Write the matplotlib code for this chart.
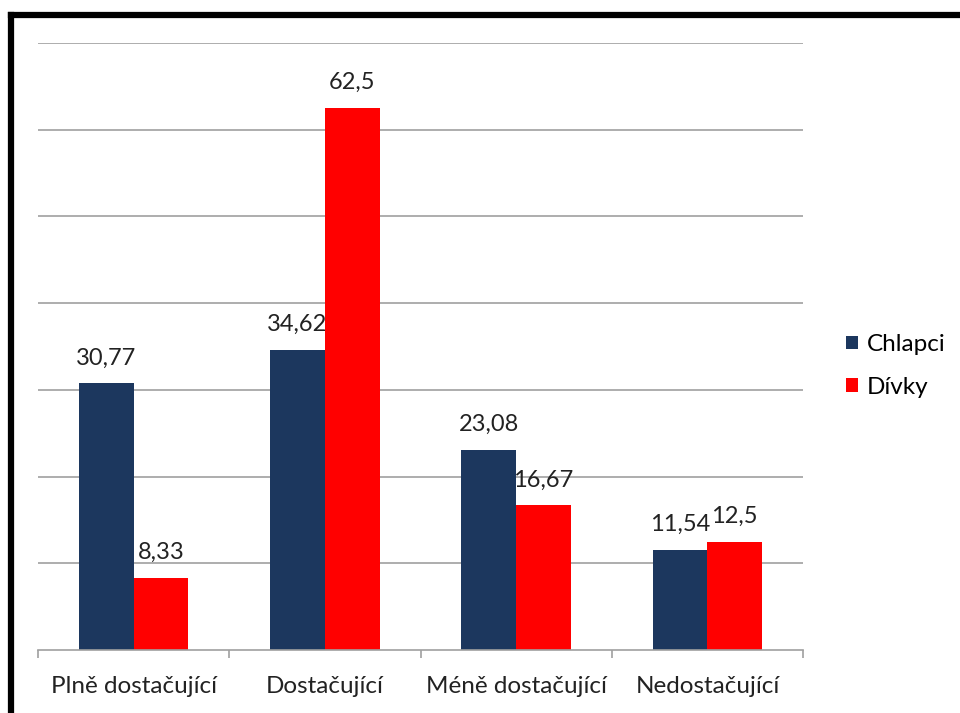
import numpy as np
import matplotlib.pyplot as plt
from matplotlib.lines import Line2D
from matplotlib.patches import Patch

categories = ["Plně dostačující", "Dostačující", "Méně dostačující", "Nedostačující"]
chlapci = [30.77, 34.62, 23.08, 11.54]
divky = [8.33, 62.5, 16.67, 12.5]
series_names = ["Chlapci", "Dívky"]
colors = ["#1c375e", "#ff0000"]

plt.rcParams['font.family'] = ['Lato', 'DejaVu Sans']

W, H = 960, 713
fig = plt.figure(figsize=(9.6, 7.13), dpi=100)
ax = fig.add_axes([38 / W, 1 - 650 / H, (803 - 38) / W, (650 - 43) / H])

x = np.arange(len(categories))
bw = 0.286
b1 = ax.bar(x - bw / 2, chlapci, bw, color=colors[0], label=series_names[0])
b2 = ax.bar(x + bw / 2, divky, bw, color=colors[1], label=series_names[1])

def fmt(v):
    s = f"{v:.2f}".rstrip("0").rstrip(".")
    return s.replace(".", ",")

for bars, vals in [(b1, chlapci), (b2, divky)]:
    for rect, v in zip(bars, vals):
        ax.annotate(fmt(v), (rect.get_x() + rect.get_width() / 2, v),
                    xytext=(0, 13.5), textcoords="offset points",
                    ha="center", va="baseline", fontsize=17, color="#222222")

ax.set_xlim(-0.5, len(categories) - 0.5)
ax.set_ylim(0, 70)
ax.set_yticks(np.arange(10, 71, 10))
ax.yaxis.grid(True, color="#a0a0a0", linewidth=1.2)
ax.set_axisbelow(True)
ax.tick_params(axis="y", left=False, labelleft=False)
for s in ["top", "right", "left"]:
    ax.spines[s].set_visible(False)
ax.spines["bottom"].set_color("#a0a0a0")
ax.spines["bottom"].set_linewidth(1.2)

ax.set_xticks(np.arange(-0.5, len(categories), 1))
ax.set_xticklabels([])
ax.tick_params(axis="x", which="major", length=6, color="#a0a0a0", width=1.2)
ax.set_xticks(x, minor=True)
ax.set_xticklabels(categories, minor=True, fontsize=17.5, color="#222222")
ax.tick_params(axis="x", which="minor", length=0, pad=19)

handles = [Patch(facecolor=c, label=n) for c, n in zip(colors, series_names)]
fig.legend(handles=handles, loc="center left", bbox_to_anchor=(846 / W, 1 - 366 / H),
           frameon=False, fontsize=17.5, handlelength=0.5, handleheight=0.5,
           handletextpad=0.35, labelspacing=0.9, borderpad=0, borderaxespad=0)

# thick frame on top and left edge
fig.add_artist(Line2D([11 / W, 1], [1 - 15 / H, 1 - 15 / H], transform=fig.transFigure,
                      color="black", linewidth=4.5, solid_capstyle="projecting"))
fig.add_artist(Line2D([11 / W, 11 / W], [0, 1 - 15 / H], transform=fig.transFigure,
                      color="black", linewidth=4.5, solid_capstyle="projecting"))

fig.savefig("out.png", dpi=100)
